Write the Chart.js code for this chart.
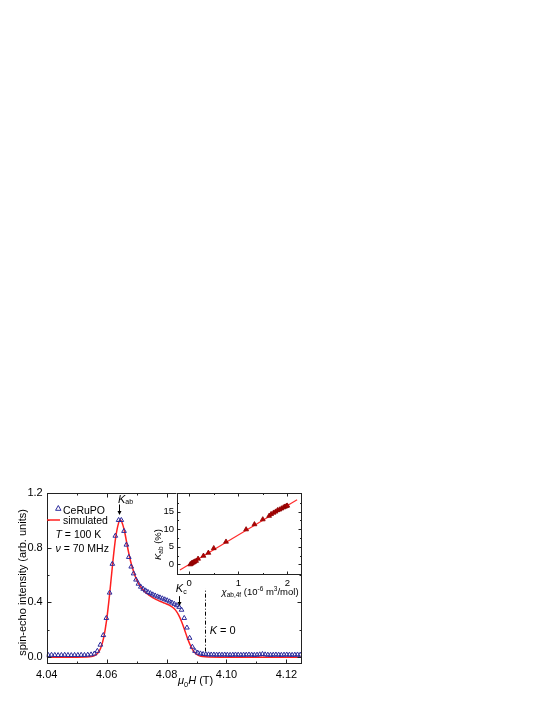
<!DOCTYPE html>
<html>
<head>
<meta charset="utf-8">
<script src="https://cdn.jsdelivr.net/npm/chart.js@4.4.0/dist/chart.umd.min.js"></script>
<style>
  body { margin: 0; background: #fff; }
  #wrap { position: relative; width: 545px; height: 705px; }
  #wrap canvas { position: absolute; left: 0; top: 0; }
</style>
</head>
<body>
<div id="wrap">
  <canvas id="mainChart" width="545" height="705"></canvas>
  <canvas id="insetChart" width="545" height="705"></canvas>
</div>
<script>
// measured spectrum (CeRuPO, T = 100 K, 70 MHz)
var expField = [
  4.0405, 4.0416, 4.0427, 4.0438, 4.0449, 4.0460, 4.0471, 4.0482, 4.0493, 4.0504,
  4.0515, 4.0526, 4.0537, 4.0548, 4.0559, 4.0569, 4.0579, 4.0589, 4.0599, 4.0610,
  4.0619, 4.0629, 4.0640, 4.0649, 4.0658, 4.0666, 4.0674, 4.0682, 4.0690, 4.0698,
  4.0706, 4.0714, 4.0722, 4.0730, 4.0738, 4.0746, 4.0754, 4.0762, 4.0770, 4.0778,
  4.0786, 4.0794, 4.0802, 4.0810, 4.0818, 4.0826, 4.0834, 4.0842, 4.0850, 4.0859,
  4.0868, 4.0877, 4.0886, 4.0895, 4.0904, 4.0913, 4.0922, 4.0931, 4.0940, 4.0949,
  4.0958, 4.0967, 4.0976, 4.0985, 4.0994, 4.1003, 4.1012, 4.1021, 4.1030, 4.1039,
  4.1048, 4.1057, 4.1066, 4.1075, 4.1084, 4.1093, 4.1102, 4.1111, 4.1120, 4.1129,
  4.1138, 4.1147, 4.1156, 4.1165, 4.1174, 4.1183, 4.1192, 4.1201, 4.1210, 4.1219,
  4.1228, 4.1237, 4.1246
];
var expSignal = [
  0.015, 0.016, 0.015, 0.014, 0.015, 0.016, 0.015, 0.014, 0.015, 0.015,
  0.016, 0.015, 0.017, 0.019, 0.025, 0.045, 0.09, 0.16, 0.285, 0.47,
  0.68, 0.885, 1.0, 1.0, 0.92, 0.82, 0.73, 0.66, 0.61, 0.565,
  0.535, 0.513, 0.498, 0.486, 0.475, 0.466, 0.457, 0.449, 0.442, 0.435,
  0.428, 0.421, 0.414, 0.406, 0.397, 0.388, 0.378, 0.366, 0.345, 0.285,
  0.215, 0.14, 0.075, 0.045, 0.032, 0.026, 0.022, 0.02, 0.019, 0.018,
  0.018, 0.017, 0.018, 0.017, 0.018, 0.017, 0.016, 0.017, 0.018, 0.017,
  0.016, 0.017, 0.017, 0.018, 0.017, 0.016, 0.017, 0.019, 0.022, 0.019,
  0.017, 0.016, 0.017, 0.018, 0.017, 0.016, 0.017, 0.018, 0.017, 0.016,
  0.017, 0.018, 0.017
];

// simulated powder pattern
var simField = [
  4.040, 4.050, 4.053, 4.055, 4.056, 4.057, 4.058, 4.059, 4.060, 4.061,
  4.062, 4.063, 4.064, 4.0645, 4.065, 4.066, 4.067, 4.068, 4.069, 4.070,
  4.071, 4.072, 4.073, 4.074, 4.075, 4.076, 4.077, 4.078, 4.079, 4.080,
  4.081, 4.082, 4.083, 4.084, 4.085, 4.086, 4.087, 4.088, 4.089, 4.090,
  4.091, 4.092, 4.094, 4.100, 4.1252
];
var simSignal = [
  0, 0, 0.001, 0.005, 0.012, 0.028, 0.065, 0.14, 0.27, 0.46,
  0.68, 0.87, 0.98, 1.0, 0.99, 0.915, 0.80, 0.70, 0.625, 0.565,
  0.525, 0.495, 0.472, 0.455, 0.44, 0.427, 0.416, 0.406, 0.397, 0.388,
  0.378, 0.364, 0.343, 0.308, 0.26, 0.20, 0.137, 0.083, 0.044, 0.021,
  0.009, 0.004, 0.001, 0, 0
];

// K = 0 marker
var kZeroField = 4.093;
var kZeroSpan = [0.04, 0.5];

// inset: shift vs susceptibility
var chiValues = [0.02, 0.04, 0.05, 0.07, 0.09, 0.11, 0.14, 0.18, 0.29, 0.39, 0.50, 0.75, 1.16, 1.33, 1.50, 1.63, 1.67, 1.72, 1.76, 1.80, 1.84, 1.88, 1.92, 1.95, 1.98, 2.00];
var shiftValues = [0.0, 0.2, 0.35, 0.5, 0.6, 0.8, 1.0, 1.6, 2.45, 3.3, 4.6, 6.45, 9.95, 11.4, 12.8, 13.8, 14.3, 14.7, 15.0, 15.4, 15.6, 15.9, 16.2, 16.4, 16.6, 16.7];
var fitChi = [-0.19, 2.2];
var fitShift = [-1.6, 18.4];

var xTicks = [4.04, 4.06, 4.08, 4.10, 4.12];
var xMinor = [4.05, 4.07, 4.09, 4.11];
var yTicks = [0.0, 0.4, 0.8, 1.2];
var yMinor = [0.2, 0.6, 1.0];
var inXTicks = [0, 1, 2];
var inXMinor = [0.5, 1.5];
var inYTicks = [0, 5, 10, 15];
var inYMinor = [2.5, 7.5, 12.5, 17.5];

var FAM = "'Liberation Sans', Arial, sans-serif";

function pts(xs, ys) {
  return xs.map(function (x, i) { return { x: x, y: ys[i] }; });
}

function fixTicks(vals) {
  return function (s) { s.ticks = vals.map(function (v) { return { value: v }; }); };
}

// frame with inward ticks on all four sides
var framePlugin = {
  id: 'frame',
  beforeDraw: function (chart, args, opts) {
    if (!opts.fill) return;
    var a = chart.chartArea, ctx = chart.ctx;
    ctx.save();
    ctx.fillStyle = '#fff';
    ctx.fillRect(a.left, a.top, a.right - a.left, a.bottom - a.top);
    ctx.restore();
  },
  afterDraw: function (chart, args, opts) {
    var ctx = chart.ctx, a = chart.chartArea, sx = chart.scales.x, sy = chart.scales.y;
    var L = Math.round(a.left) + 0.5, R = Math.round(a.right) - 0.5;
    var T = Math.round(a.top) + 0.5, B = Math.round(a.bottom) - 0.5;
    ctx.save();
    ctx.strokeStyle = '#222';
    ctx.lineWidth = 1;
    ctx.strokeRect(L, T, R - L, B - T);
    ctx.beginPath();
    function xt(vals, len) {
      vals.forEach(function (v) {
        var p = Math.round(sx.getPixelForValue(v)) + 0.5;
        ctx.moveTo(p, B); ctx.lineTo(p, B - len);
        ctx.moveTo(p, T); ctx.lineTo(p, T + len);
      });
    }
    function yt(vals, len) {
      vals.forEach(function (v) {
        var p = Math.round(sy.getPixelForValue(v)) + 0.5;
        ctx.moveTo(L, p); ctx.lineTo(L + len, p);
        ctx.moveTo(R, p); ctx.lineTo(R - len, p);
      });
    }
    xt(opts.xMajor, opts.major); xt(opts.xMinor, opts.minor);
    yt(opts.yMajor, opts.major); yt(opts.yMinor, opts.minor);
    ctx.stroke();
    ctx.restore();
  }
};

function rich(ctx, parts, x, y) {
  parts.forEach(function (p) {
    ctx.font = p[1];
    ctx.fillText(p[0], x, y + (p[2] || 0));
    x += ctx.measureText(p[0]).width;
  });
  return x;
}

function arrowDown(ctx, x, y0, y1) {
  ctx.beginPath();
  ctx.moveTo(x, y0); ctx.lineTo(x, y1 - 3);
  ctx.stroke();
  ctx.beginPath();
  ctx.moveTo(x - 2, y1 - 4); ctx.lineTo(x + 2, y1 - 4); ctx.lineTo(x, y1);
  ctx.closePath();
  ctx.fill();
}

var notesPlugin = {
  id: 'notes',
  afterDraw: function (chart) {
    var ctx = chart.ctx, sx = chart.scales.x, sy = chart.scales.y;
    var f11 = '11px ' + FAM, i11 = 'italic 11px ' + FAM;
    var f10 = '10.5px ' + FAM, i10 = 'italic 10.5px ' + FAM;
    ctx.save();
    ctx.fillStyle = '#000';
    ctx.strokeStyle = '#000';
    ctx.lineWidth = 1;
    ctx.textBaseline = 'alphabetic';
    ctx.textAlign = 'left';

    // legend
    ctx.save();
    ctx.strokeStyle = '#2b2b9c';
    ctx.beginPath();
    ctx.moveTo(58.3, 505.5); ctx.lineTo(61, 510.3); ctx.lineTo(55.6, 510.3); ctx.closePath();
    ctx.stroke();
    ctx.strokeStyle = '#ff1f1f';
    ctx.lineWidth = 1.5;
    ctx.beginPath(); ctx.moveTo(47, 520); ctx.lineTo(60, 520); ctx.stroke();
    ctx.restore();
    ctx.font = f10;
    ctx.fillText('CeRuPO', 63, 513.5);
    ctx.fillText('simulated', 63, 523.5);
    rich(ctx, [['T', i10], [' = 100 K', f10]], 55.5, 538);
    rich(ctx, [['\u03bd', i10], [' = 70 MHz', f10]], 55.5, 552);

    // K_ab marker
    var xa = sx.getPixelForValue(4.0638);
    rich(ctx, [['K', i11], ['ab', '7px ' + FAM, 1.5]], xa, sy.getPixelForValue(1.126));
    arrowDown(ctx, Math.round(sx.getPixelForValue(4.0641)) + 0.5, sy.getPixelForValue(1.114), sy.getPixelForValue(1.037));

    // K_c marker
    var xc = sx.getPixelForValue(4.0831);
    rich(ctx, [['K', i11], ['c', '7px ' + FAM, 1.5]], xc, sy.getPixelForValue(0.472));
    arrowDown(ctx, Math.round(sx.getPixelForValue(4.0841)) + 0.5, sy.getPixelForValue(0.445), sy.getPixelForValue(0.374));

    // K = 0
    rich(ctx, [['K', i11], [' = 0', f11]], sx.getPixelForValue(4.0944), sy.getPixelForValue(0.169));

    // x axis title
    rich(ctx, [['\u03bc', i11], ['0', '7.5px ' + FAM, 2.5], ['H', i11], [' (T)', f11]], 178, 684);

    // y axis title
    ctx.save();
    ctx.translate(25.5, 582.5);
    ctx.rotate(-Math.PI / 2);
    ctx.textAlign = 'center';
    ctx.font = f11;
    ctx.fillText('spin-echo intensity (arb. units)', 0, 0);
    ctx.restore();

    ctx.restore();
  }
};

var insetNotes = {
  id: 'insetNotes',
  afterDraw: function (chart) {
    var ctx = chart.ctx;
    var f = '9.5px ' + FAM, fi = 'italic 9.5px ' + FAM, fs = '6.5px ' + FAM;
    ctx.save();
    ctx.fillStyle = '#000';
    ctx.textBaseline = 'alphabetic';
    ctx.textAlign = 'left';
    rich(ctx, [['\u03c7', fi], ['ab,4f', fs, 2], [' (10', f], ['-6', fs, -4], [' m', f], ['3', fs, -4], ['/mol)', f]], 221.5, 595);
    ctx.save();
    ctx.translate(161, 560);
    ctx.rotate(-Math.PI / 2);
    rich(ctx, [['K', fi], ['ab', fs, 2], [' (%)', f]], 0, 0);
    ctx.restore();
    ctx.restore();
  }
};

var tickFont = { family: FAM, size: 11 };

new Chart(document.getElementById('mainChart').getContext('2d'), {
  type: 'scatter',
  data: {
    datasets: [
      {
        label: 'CeRuPO',
        data: pts(expField, expSignal),
        pointStyle: 'triangle',
        pointRadius: 2.7,
        borderColor: '#2b2b9c',
        backgroundColor: 'rgba(0,0,0,0)',
        borderWidth: 1
      },
      {
        label: 'simulated',
        data: pts(simField, simSignal),
        showLine: true,
        cubicInterpolationMode: 'monotone',
        borderColor: '#ff1f1f',
        borderWidth: 1.5,
        pointRadius: 0
      },
      {
        label: 'K = 0',
        data: [{ x: kZeroField, y: kZeroSpan[0] }, { x: kZeroField, y: kZeroSpan[1] }],
        showLine: true,
        borderColor: '#000',
        borderWidth: 1,
        borderDash: [4, 2, 1, 2],
        pointRadius: 0
      }
    ]
  },
  options: {
    responsive: false,
    animation: false,
    events: [],
    layout: { padding: { left: 0, top: 492.7, right: 243, bottom: 21 } },
    plugins: {
      legend: { display: false },
      tooltip: { enabled: false },
      frame: { xMajor: xTicks, xMinor: xMinor, yMajor: yTicks, yMinor: yMinor, major: 4, minor: 2 }
    },
    scales: {
      x: {
        type: 'linear', min: 4.04, max: 4.1252,
        grid: { display: false, drawTicks: false },
        border: { display: false },
        ticks: { font: tickFont, color: '#000', padding: 4, maxRotation: 0, autoSkip: false,
          callback: function (v) { return v.toFixed(2); } },
        afterBuildTicks: fixTicks(xTicks),
        afterFit: function (s) { s.height = 20; }
      },
      y: {
        type: 'linear', min: -0.05, max: 1.2,
        grid: { display: false, drawTicks: false },
        border: { display: false },
        ticks: { font: tickFont, color: '#000', padding: 4, autoSkip: false,
          callback: function (v) { return v.toFixed(1); } },
        afterBuildTicks: fixTicks(yTicks),
        afterFit: function (s) { s.width = 46.7; }
      }
    }
  },
  plugins: [framePlugin, notesPlugin]
});

var insetFont = { family: FAM, size: 9.5 };

new Chart(document.getElementById('insetChart').getContext('2d'), {
  type: 'scatter',
  data: {
    datasets: [
      {
        label: 'data',
        data: pts(chiValues, shiftValues),
        pointStyle: 'triangle',
        pointRadius: 2.8,
        borderColor: '#8a0000',
        backgroundColor: '#b80000',
        borderWidth: 0.8
      },
      {
        label: 'fit',
        data: pts(fitChi, fitShift),
        showLine: true,
        borderColor: '#ff2a2a',
        borderWidth: 1.2,
        pointRadius: 0
      }
    ]
  },
  options: {
    responsive: false,
    animation: false,
    events: [],
    layout: { padding: { left: 156.5, top: 492.7, right: 243, bottom: 115 } },
    plugins: {
      legend: { display: false },
      tooltip: { enabled: false },
      frame: { fill: true, xMajor: inXTicks, xMinor: inXMinor, yMajor: inYTicks, yMinor: inYMinor, major: 3, minor: 1.5 }
    },
    scales: {
      x: {
        type: 'linear', min: -0.26, max: 2.3,
        grid: { display: false, drawTicks: false },
        border: { display: false },
        ticks: { font: insetFont, color: '#000', padding: 3, maxRotation: 0, autoSkip: false },
        afterBuildTicks: fixTicks(inXTicks),
        afterFit: function (s) { s.height = 15; }
      },
      y: {
        type: 'linear', min: -3.0, max: 20.4,
        grid: { display: false, drawTicks: false },
        border: { display: false },
        ticks: { font: insetFont, color: '#000', padding: 2.5, autoSkip: false },
        afterBuildTicks: fixTicks(inYTicks),
        afterFit: function (s) { s.width = 20; }
      }
    }
  },
  plugins: [framePlugin, insetNotes]
});
</script>
</body>
</html>
